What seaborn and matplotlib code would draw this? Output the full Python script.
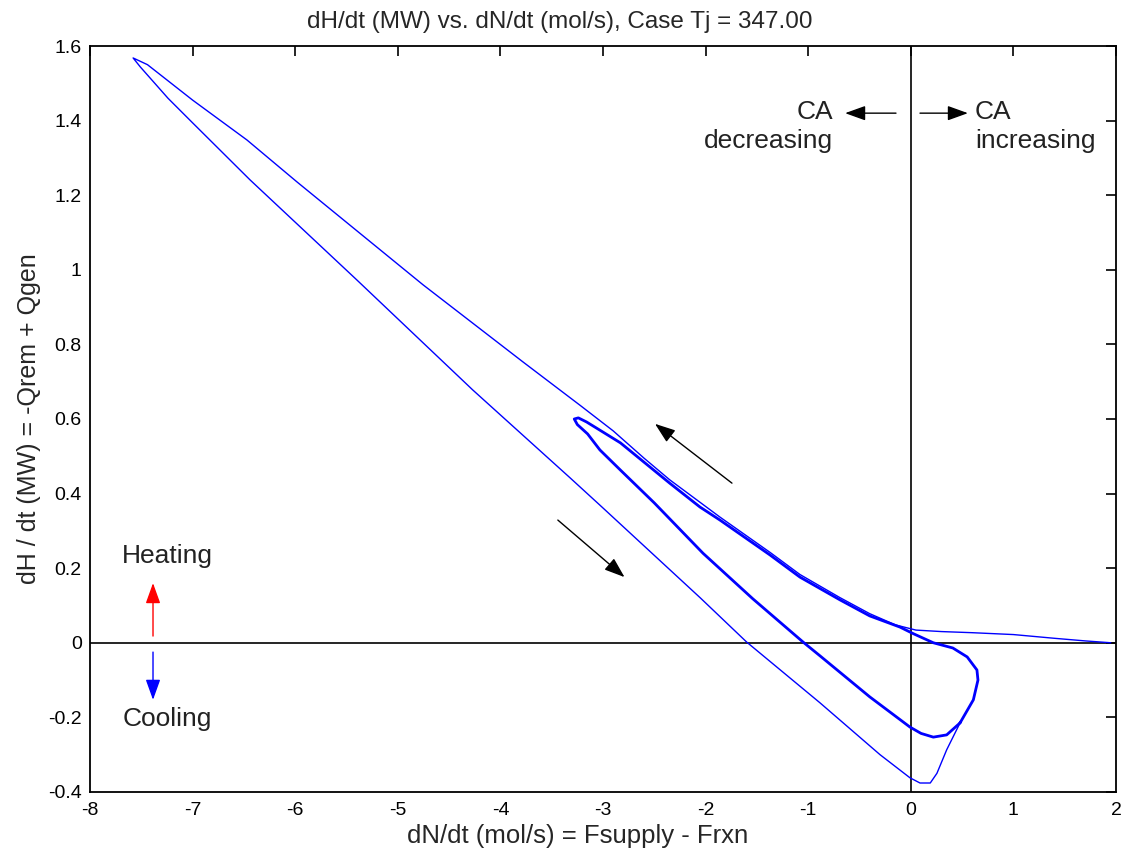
import matplotlib
matplotlib.use("Agg")
import matplotlib.pyplot as plt
import seaborn as sns
import pandas as pd
import numpy as np

# ---- data ----
# transient (thin) trajectory: starts at the right, goes round the big loop
outer_x = [1.95, 1.7, 1.4, 1.0, 0.6, 0.3, 0.05, -0.15, -0.40, -0.69, -1.08, -1.37,
           -1.86, -2.35, -2.6, -2.9, -3.22, -3.78, -4.755, -5.98, -6.47, -7.0, -7.44,
           -7.58, -7.51, -7.24, -7.0, -6.44, -5.40, -4.27, -3.32, -3.03, -2.05, -1.6,
           -0.885, -0.3, -0.008, 0.09, 0.19, 0.255, 0.35, 0.48]
outer_y = [0.0, 0.005, 0.012, 0.022, 0.027, 0.030, 0.034, 0.048, 0.078, 0.121, 0.183, 0.242,
           0.337, 0.437, 0.495, 0.568, 0.636, 0.753, 0.960, 1.235, 1.348, 1.455, 1.550,
           1.568, 1.544, 1.460, 1.394, 1.241, 0.973, 0.678, 0.442, 0.369, 0.120, 0.002,
           -0.161, -0.300, -0.362, -0.376, -0.376, -0.350, -0.287, -0.215]

# limit cycle (drawn repeatedly -> thick)
cycle_x = [0.48, 0.61, 0.655, 0.645, 0.55, 0.41, 0.22, 0.02, -0.105, -0.40, -0.69, -1.08,
           -1.37, -1.86, -2.055, -2.35, -2.83, -3.03, -3.16, -3.24, -3.28, -3.25, -3.15,
           -3.03, -2.83, -2.5, -2.025, -1.54, -1.05, -0.885, -0.40, -0.008, 0.1, 0.22,
           0.35, 0.48]
cycle_y = [-0.215, -0.153, -0.100, -0.073, -0.038, -0.014, 0.0, 0.025, 0.042, 0.072, 0.115, 0.176,
           0.235, 0.329, 0.364, 0.428, 0.536, 0.570, 0.592, 0.603, 0.600, 0.585, 0.560,
           0.517, 0.463, 0.375, 0.240, 0.118, 0.002, -0.035, -0.145, -0.226, -0.243, -0.253,
           -0.247, -0.215]

x_ticks = [-8, -7, -6, -5, -4, -3, -2, -1, 0, 1, 2]
y_ticks = [-0.4, -0.2, 0, 0.2, 0.4, 0.6, 0.8, 1.0, 1.2, 1.4, 1.6]
x_tick_labels = ["-8", "-7", "-6", "-5", "-4", "-3", "-2", "-1", "0", "1", "2"]
y_tick_labels = ["-0.4", "-0.2", "0", "0.2", "0.4", "0.6", "0.8", "1", "1.2", "1.4", "1.6"]

# arrows: (x_tail, y_tail, x_head, y_head, colour)
arrows = [
    (-1.743, 0.428, -2.493, 0.587, "black"),
    (-3.44, 0.329, -2.79, 0.176, "black"),
    (-0.144, 1.42, -0.64, 1.42, "black"),
    (0.09, 1.42, 0.557, 1.42, "black"),
    (-7.386, 0.018, -7.386, 0.160, "red"),
    (-7.386, -0.025, -7.386, -0.153, "blue"),
]
# texts: (x, y, text, ha)
labels = [
    (-0.758, 1.385, "CA\ndecreasing", "right"),
    (0.626, 1.385, "CA\nincreasing", "left"),
    (-7.25, 0.233, "Heating", "center"),
    (-7.25, -0.204, "Cooling", "center"),
]

# ---- plotting ----
sns.set_style("white")
plt.rcParams['font.family'] = ['Liberation Sans', 'DejaVu Sans']
plt.rcParams['axes.unicode_minus'] = False

fig = plt.figure(figsize=(11.21, 8.57), dpi=100)
ax = fig.add_axes([0.0803, 0.0759, 0.9152, 0.8704])

df_outer = pd.DataFrame({"x": outer_x, "y": outer_y})
df_cycle = pd.DataFrame({"x": cycle_x, "y": cycle_y})
sns.lineplot(data=df_outer, x="x", y="y", sort=False, estimator=None,
             color="#0000ff", lw=1.0, ax=ax)
sns.lineplot(data=df_cycle, x="x", y="y", sort=False, estimator=None,
             color="#0000ff", lw=2.0, ax=ax)

ax.axhline(0, color="black", lw=1.2, zorder=1)
ax.axvline(0, color="black", lw=1.2, zorder=1)

for xt, yt, xh, yh, c in arrows:
    ax.annotate("", xy=(xh, yh), xytext=(xt, yt),
                arrowprops=dict(arrowstyle="-|>,head_length=1.25,head_width=0.45",
                                color=c, lw=1.0, shrinkA=0, shrinkB=0))

for x, y, t, ha in labels:
    ax.text(x, y, t, ha=ha, va="center", fontsize=19, linespacing=1.25, color="#222222")

ax.set_xlim(-8, 2)
ax.set_ylim(-0.4, 1.6)
ax.set_xticks(x_ticks)
ax.set_xticklabels(x_tick_labels)
ax.set_yticks(y_ticks)
ax.set_yticklabels(y_tick_labels)
ax.tick_params(direction="in", length=7, width=1.2, top=True, right=True,
               labelsize=14, pad=6, colors="black")
ax.tick_params(axis="x", pad=7)
for s in ax.spines.values():
    s.set_color("black")
    s.set_linewidth(1.3)

ax.set_title("dH/dt (MW) vs. dN/dt (mol/s), Case Tj = 347.00", fontsize=17.5, pad=13,
             x=0.458)
ax.set_xlabel("dN/dt (mol/s) = Fsupply - Frxn", fontsize=18.5, labelpad=4, x=0.475)
ax.set_ylabel("dH / dt (MW) = -Qrem + Qgen", fontsize=18, labelpad=5)

fig.savefig("out.png", dpi=100)
